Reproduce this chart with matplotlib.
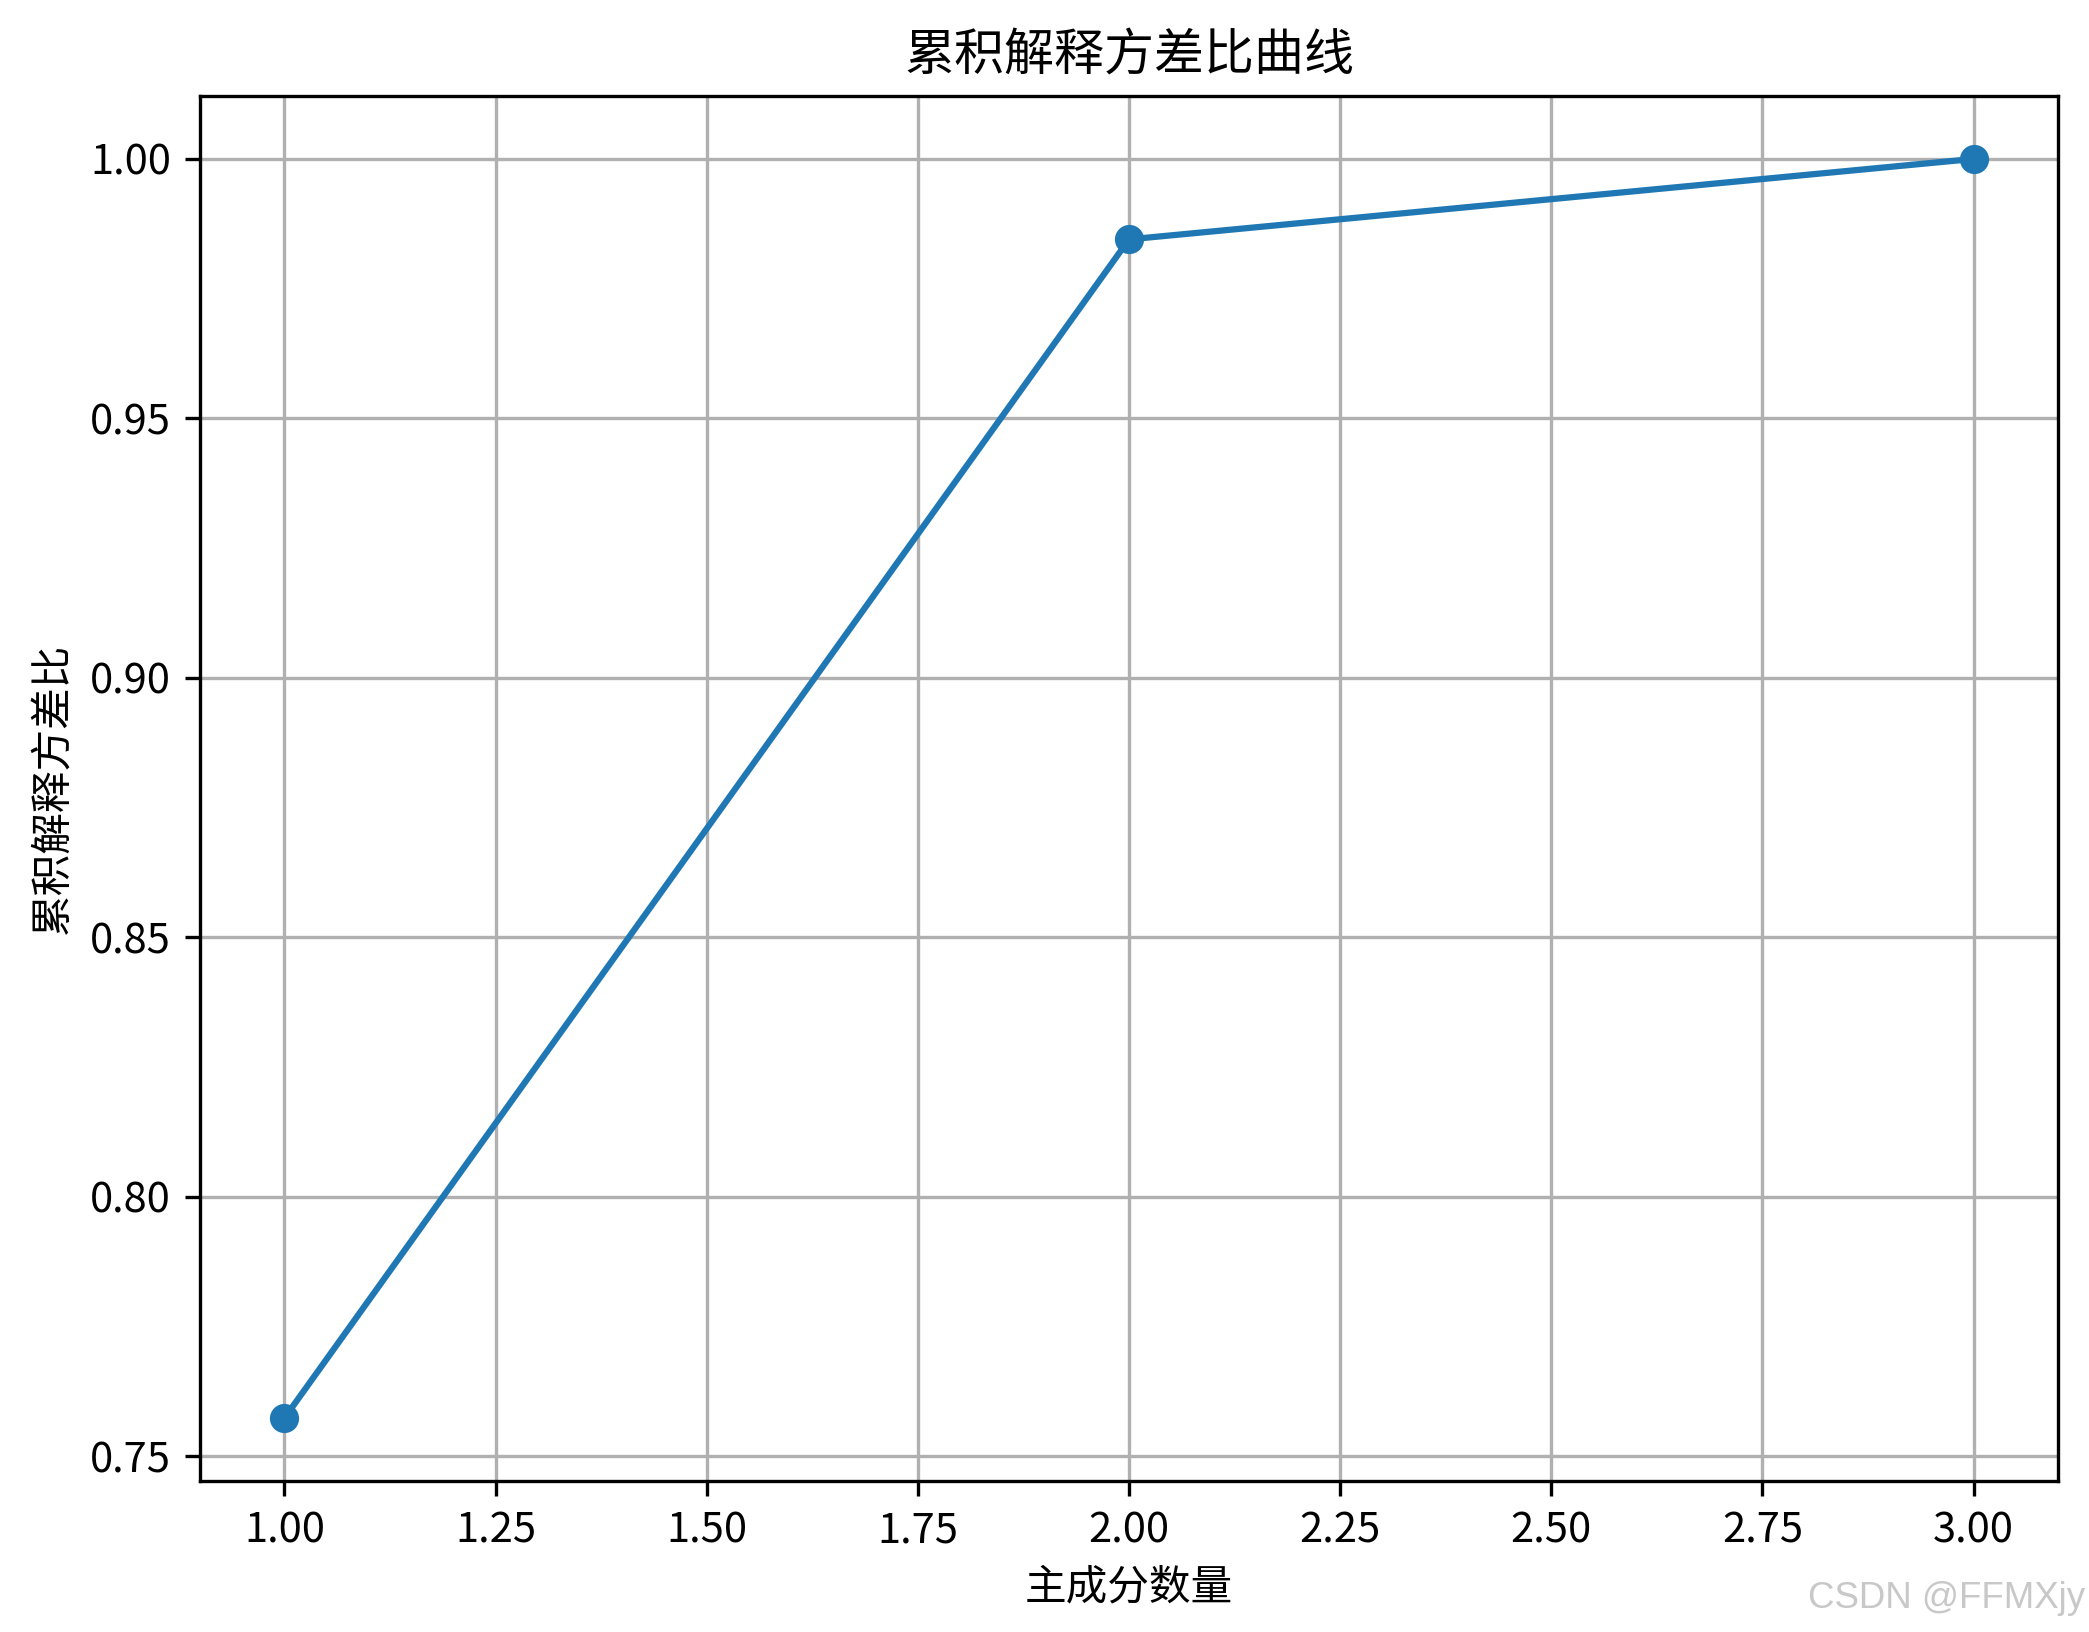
"""Cumulative explained variance ratio curve (PCA components)."""

import matplotlib

matplotlib.use("Agg")
import matplotlib.pyplot as plt

plt.rcParams["font.family"] = ["Noto Sans CJK SC", "DejaVu Sans"]
plt.rcParams["axes.unicode_minus"] = False

n_components = [1, 2, 3]
cumulative_ratio = [0.7574, 0.9845, 1.0]

TITLE = "累积解释方差比曲线"
X_LABEL = "主成分数量"
Y_LABEL = "累积解释方差比"
WATERMARK = "CSDN @FFMXjy"


def main() -> None:
    fig = plt.figure(figsize=(2089 / 300, 1632 / 300), dpi=300)
    ax = fig.add_axes([0.0957, 0.0925, 0.8895, 0.8487])
    ax.plot(n_components, cumulative_ratio, marker="o", color="#1f77b4")
    ax.set_title(TITLE, fontsize=12)
    ax.set_xlabel(X_LABEL, fontsize=10)
    ax.set_ylabel(Y_LABEL, fontsize=10)
    ax.xaxis.set_major_formatter(matplotlib.ticker.FormatStrFormatter("%.2f"))
    ax.yaxis.set_major_formatter(matplotlib.ticker.FormatStrFormatter("%.2f"))
    ax.grid(True)
    fig.text(0.998, 0.010, WATERMARK, ha="right", va="bottom", fontsize=8.8,
             color="#c8c8c8", family=["Liberation Sans", "DejaVu Sans"])
    fig.savefig("out.png", dpi=300)
    plt.close(fig)


if __name__ == "__main__":
    main()
